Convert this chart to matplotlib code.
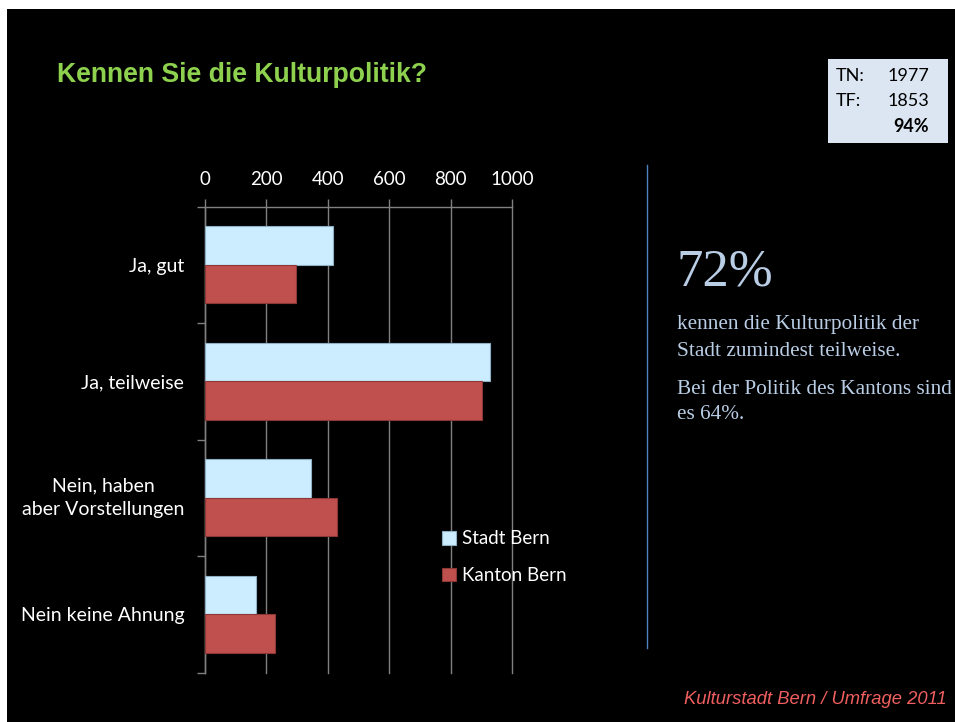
import matplotlib
matplotlib.use("Agg")
import matplotlib.pyplot as plt
from matplotlib.patches import Rectangle
from matplotlib.lines import Line2D
import numpy as np

categories = ["Ja, gut", "Ja, teilweise", "Nein, haben\naber Vorstellungen", "Nein keine Ahnung"]
stadt = [416, 928, 345, 166]
kanton = [297, 900, 431, 229]
series_names = ["Stadt Bern", "Kanton Bern"]
xticks = [0, 200, 400, 600, 800, 1000]

sans = "Lato"
serif = "Liberation Serif"

fig = plt.figure(figsize=(9.55, 7.22), dpi=100, facecolor="white")
# black slide area (white strip at top and left like the screenshot)
fig.patches.append(Rectangle((7 / 955, 0), 1, 1 - 9 / 722, transform=fig.transFigure,
                             facecolor="black", edgecolor="none", zorder=-10))

ax = fig.add_axes([204.5 / 955, 1 - 672.5 / 722, 307.8 / 955, 466 / 722])
ax.patch.set_alpha(0)

y = np.arange(len(categories))
h = 0.332
ax.barh(y - h / 2, stadt, height=h, color="#CCECFF", edgecolor="#8FAFC4", linewidth=0.8,
        label=series_names[0], zorder=3)
ax.barh(y + h / 2, kanton, height=h, color="#C0504D", edgecolor="#8C3836", linewidth=0.8,
        label=series_names[1], zorder=3)

ax.set_xlim(0, 1000)
ax.set_ylim(len(categories) - 0.5, -0.5)
ax.xaxis.tick_top()
ax.set_xticks(xticks)
ax.set_xticklabels([str(v) for v in xticks], fontfamily=sans, fontsize=13.5, color="white")
ax.tick_params(axis="x", colors="#808080", labelcolor="white", length=6, width=1, pad=7.5)
ax.grid(axis="x", color="#808080", linewidth=1, zorder=1)
for gl in ax.get_xgridlines():
    gl.set_clip_on(False)

ax.set_yticks(y)
ax.set_yticklabels(categories, fontfamily=sans, fontsize=14, color="white",
                   multialignment="center", linespacing=1.45)
for lbl in ax.get_yticklabels():
    if "\n" in lbl.get_text():
        lbl.set_verticalalignment("center")
ax.tick_params(axis="y", which="major", length=0, pad=14.5)
ax.set_yticks(np.arange(-0.5, len(categories)), minor=True)
ax.tick_params(axis="y", which="minor", length=6, color="#808080", width=1)

for side in ["right", "bottom"]:
    ax.spines[side].set_visible(False)
for side in ["top", "left"]:
    ax.spines[side].set_color("#808080")
    ax.spines[side].set_linewidth(1)

leg = fig.legend(loc="upper left", bbox_to_anchor=(433 / 955, 1 - 521 / 722), frameon=False,
                 handlelength=0.75, handleheight=0.75, handletextpad=0.3, labelspacing=1.05,
                 borderpad=0, prop={"family": sans, "size": 13.5})
for t in leg.get_texts():
    t.set_color("white")

# title
fig.text(57 / 955, 1 - 75 / 722, "Kennen Sie die Kulturpolitik?", fontfamily="Liberation Sans",
         fontweight="bold", fontsize=19.2, color="#8DD14E", va="center", ha="left")

# TN / TF box
fig.patches.append(Rectangle((828 / 955, 1 - 143 / 722), 120 / 955, 84 / 722,
                             transform=fig.transFigure, facecolor="#DCE6F2", edgecolor="none"))
box_rows = [("TN:", "1977", 76), ("TF:", "1853", 101)]
for lab, val, yy in box_rows:
    fig.text(836 / 955, 1 - yy / 722, lab, fontfamily=sans, fontsize=13, color="black", va="center")
    fig.text(929 / 955, 1 - yy / 722, val, fontfamily=sans, fontsize=13, color="black",
             va="center", ha="right")
fig.text(929 / 955, 1 - 127 / 722, "94%", fontfamily=sans, fontsize=13, fontweight="bold",
         color="black", va="center", ha="right")

# separator line
fig.add_artist(Line2D([646.5 / 955, 646.5 / 955], [1 - 165 / 722, 1 - 648 / 722],
                      transform=fig.transFigure, color="#4F81BD", linewidth=1))

# right text block
txt_color = "#B9CDE5"
fig.text(677 / 955, 1 - 285 / 722, "72%", fontfamily=serif, fontsize=38, color=txt_color,
         va="baseline", ha="left")
lines = [("kennen die Kulturpolitik der", 329), ("Stadt zumindest teilweise.", 356),
         ("Bei der Politik des Kantons sind", 394), ("es 64%.", 419)]
for s, yy in lines:
    fig.text(677 / 955, 1 - yy / 722, s, fontfamily=serif, fontsize=15.3, color=txt_color,
             va="baseline", ha="left")

# footer
fig.text(947 / 955, 1 - 699 / 722, "Kulturstadt Bern / Umfrage 2011", fontfamily="Liberation Sans",
         fontstyle="italic", fontsize=13.2, color="#F05F5F", va="center", ha="right")

fig.savefig("out.png", dpi=100, facecolor=fig.get_facecolor())
